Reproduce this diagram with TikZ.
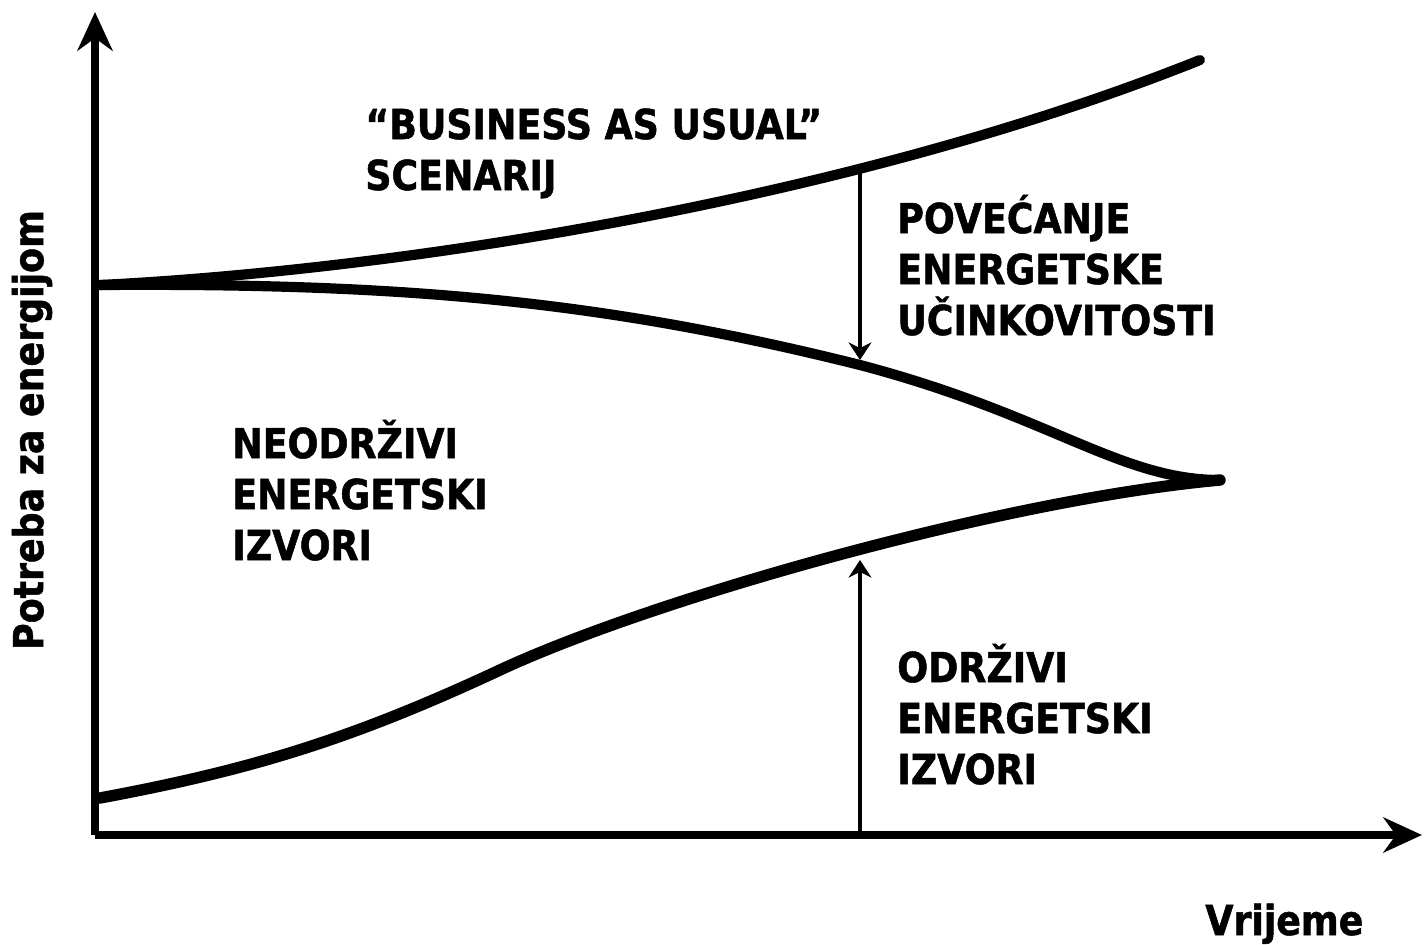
\documentclass[tikz,border=0pt]{standalone}
\usepackage{fontspec}
\setmainfont{DejaVu Sans}[FakeStretch=0.88, BoldFeatures={FakeBold=1.2}]
\usetikzlibrary{arrows.meta}

\tikzset{
  lbl/.style={font=\bfseries\fontsize{23.5}{29}\selectfont, align=left, inner sep=0pt, anchor=base west},
  axis/.style={line width=4pt, -{Stealth[length=22pt, width=20pt]}},
  curve/.style={line width=5.8pt, line cap=round},
  gap/.style={line width=1.8pt, -{Stealth[length=10pt, width=13pt]}}
}

\begin{document}
\begin{tikzpicture}[x=0.02cm, y=-0.02cm]
\useasboundingbox (0,0) rectangle (1424,944);

% axes
\coordinate (origin) at (95,835);
\coordinate (ytip) at (95,12);
\coordinate (xtip) at (1422,835);
\draw[axis] (origin) -- (ytip);
\draw[axis] (origin) -- (xtip);

% curves
\draw[curve] (100,285) .. controls (400,270) and (850,200) .. (1200,60);
\draw[curve] (100,285) .. controls (400,283) and (600,300) .. (860,365)
  .. controls (1050,415) and (1120,480) .. (1220,480);
\draw[curve, line width=6.5pt] (100,798) .. controls (250,770) and (350,740) .. (500,670)
  .. controls (650,600) and (1000,500) .. (1220,480);

% gap arrows
\coordinate (bauAt) at (860,166);
\coordinate (effAt) at (860,360);
\coordinate (xAt) at (860,835);
\coordinate (renAt) at (860,560);
\draw[gap] (bauAt) -- (effAt);
\draw[gap] (xAt) -- (renAt);

% labels (base = last line)
\node[lbl] (bau) at (365,190) {“BUSINESS AS USUAL”\\SCENARIJ};
\node[lbl] (eff) at (897,335) {POVEĆANJE\\ENERGETSKE\\UČINKOVITOSTI};
\node[lbl] (fossil) at (232,560) {NEODRŽIVI\\ENERGETSKI\\IZVORI};
\node[lbl] (renew) at (897,784) {ODRŽIVI\\ENERGETSKI\\IZVORI};
\node[lbl] (xlbl) at (1205,935) {Vrijeme};
\node[lbl, anchor=center, rotate=90] (ylbl) at (32,430) {Potreba za energijom};

\end{tikzpicture}
\end{document}
